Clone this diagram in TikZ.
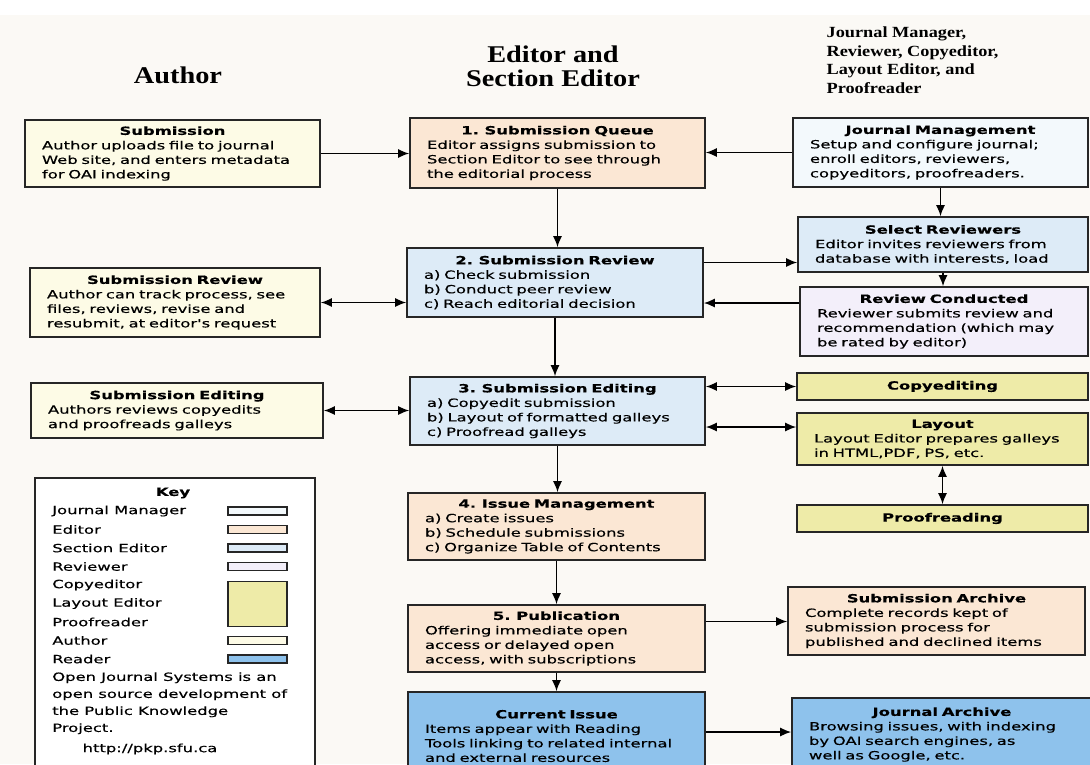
\documentclass[tikz,border=0pt]{standalone}
\usepackage{fontspec}
\usepackage{tikz}
\usetikzlibrary{arrows.meta}
\newfontfamily\boxfont{DejaVu Sans}[FakeStretch=1.45,FakeBold=0.4]
\newfontfamily\headfont{Liberation Serif}[FakeStretch=1.18]
\definecolor{paper}{HTML}{FBF9F5}
\definecolor{authorfill}{HTML}{FDFBE6}
\definecolor{editorfill}{HTML}{FBE7D4}
\definecolor{sectfill}{HTML}{DDEBF7}
\definecolor{managerfill}{HTML}{F3F9FC}
\definecolor{reviewfill}{HTML}{F3EFFA}
\definecolor{copyfill}{HTML}{EEEBA8}
\definecolor{readerfill}{HTML}{8EC2EC}
\setlength\parindent{0pt}
\newcommand\ttl[1]{{\centering\bfseries #1\par}}
\tikzset{every picture/.style={line width=0.2mm}}
\tikzset{
  card/.style={draw=black!85, line width=1.6pt, inner xsep=17pt, inner ysep=0pt,
    text width=261pt, align=left, font=\boxfont\fontsize{11.3}{14.5}\selectfont},
  head/.style={font=\headfont\bfseries\fontsize{24}{24}\selectfont, align=center},
  flow/.style={-{Latex[length=11pt,width=9pt]}, line width=1.5pt},
  twoway/.style={{Latex[length=11pt,width=9pt]}-{Latex[length=11pt,width=9pt]}, line width=1.5pt},
  swatch/.style={draw=black!85, line width=1.2pt, minimum width=59pt, minimum height=8pt, inner sep=0pt},
  keytext/.style={font=\boxfont\fontsize{11.3}{17}\selectfont, anchor=west, inner sep=0pt}
}

\begin{document}
\begin{tikzpicture}[x=1pt,y=-1pt]
  \useasboundingbox (0,0) rectangle (1090,764);
  \fill[white] (0,0) rectangle (1090,764);
  \fill[paper] (0,15) rectangle (1090,764);

  \node[head] (hauthor) at (178,75) {Author};
  \node[head] (heditor) at (553,66) {Editor and\\Section Editor};
  \node[head, font=\headfont\bfseries\fontsize{15.5}{18.5}\selectfont, align=left, anchor=west] (hother) at (823,60)
    {Journal Manager,\\Reviewer, Copyeditor,\\Layout Editor, and\\Proofreader};

  \node[card, fill=authorfill, minimum height=67pt] (sub) at (172.5,153.5)
    {\ttl{Submission}Author uploads file to journal\\Web site, and enters metadata\\for OAI indexing};
  \node[card, fill=authorfill, text width=256pt, minimum height=69pt] (asr) at (175,302.5)
    {\ttl{Submission Review}Author can track process, see\\files, reviews, revise and\\resubmit, at editor's request};
  \node[card, fill=authorfill, text width=258pt, minimum height=55pt] (ase) at (177,410.5)
    {\ttl{Submission Editing}Authors reviews copyedits\\and proofreads galleys};

  \node[card, fill=editorfill, minimum height=70pt] (queue) at (557.5,153)
    {\ttl{1. Submission Queue}Editor assigns submission to\\Section Editor to see through\\the editorial process};
  \node[card, fill=sectfill, text width=262pt, minimum height=69pt] (rev) at (555,282.5)
    {\ttl{2. Submission Review}a) Check submission\\b) Conduct peer review\\c) Reach editorial decision};
  \node[card, fill=sectfill, minimum height=68pt] (edit) at (557.5,411)
    {\ttl{3. Submission Editing}a) Copyedit submission\\b) Layout of formatted galleys\\c) Proofread galleys};
  \node[card, fill=editorfill, text width=263pt, minimum height=67pt] (issue) at (556.5,526.5)
    {\ttl{4. Issue Management}a) Create issues\\b) Schedule submissions\\c) Organize Table of Contents};
  \node[card, fill=editorfill, text width=263pt, minimum height=67pt] (pub) at (556.5,638.5)
    {\ttl{5. Publication}Offering immediate open\\access or delayed open\\access, with subscriptions};
  \node[card, fill=readerfill, text width=263pt, minimum height=88pt] (cur) at (556.5,736)
    {\ttl{Current Issue}Items appear with Reading\\Tools linking to related internal\\and external resources};

  \node[card, fill=managerfill, minimum height=69pt] (jm) at (940.5,152.5)
    {\ttl{Journal Management}Setup and configure journal;\\enroll editors, reviewers,\\copyeditors, proofreaders.};
  \node[card, fill=sectfill, text width=256pt, minimum height=55pt] (sr) at (943,244.5)
    {\ttl{Select Reviewers}Editor invites reviewers from\\database with interests, load};
  \node[card, fill=reviewfill, text width=254pt, minimum height=69pt] (rc) at (944,321.5)
    {\ttl{Review Conducted}Reviewer submits review and\\recommendation (which may\\be rated by editor)};
  \node[card, fill=copyfill, text width=257pt, minimum height=27pt] (copy) at (942.5,386.5)
    {\ttl{Copyediting}};
  \node[card, fill=copyfill, text width=257pt, minimum height=52pt] (lay) at (942.5,439)
    {\ttl{Layout}Layout Editor prepares galleys\\in HTML,PDF, PS, etc.};
  \node[card, fill=copyfill, text width=257pt, minimum height=27pt] (proof) at (942.5,518.5)
    {\ttl{Proofreading}};
  \node[card, fill=editorfill, text width=263pt, minimum height=68pt] (sarch) at (936.5,621)
    {\ttl{Submission Archive}Complete records kept of\\submission process for\\published and declined items};
  \node[card, fill=readerfill, text width=266pt, minimum height=73pt] (jarch) at (942,734.5)
    {\ttl{Journal Archive}Browsing issues, with indexing\\by OAI search engines, as\\well as Google, etc.};

  \node[card, fill=white, text width=246pt, minimum height=300pt] (key) at (175,628) {};
  \node[keytext, anchor=center, font=\boxfont\bfseries\fontsize{11.3}{14.5}\selectfont] (keyhead) at (173,493) {Key};
  \foreach \lbl/\y/\c [count=\i] in {Journal Manager/511/managerfill, Editor/529.5/editorfill,
      Section Editor/548/sectfill, Reviewer/566.5/reviewfill, Author/640.5/authorfill, Reader/659/readerfill} {
    \node[keytext] (k\i) at (52,\y) {\lbl};
    \node[swatch, fill=\c] (s\i) at (257.5,\y) {};
  }
  \foreach \lbl/\y [count=\i] in {Copyeditor/585, Layout Editor/603.5, Proofreader/622}
    \node[keytext] (kc\i) at (52,\y) {\lbl};
  \node[swatch, fill=copyfill, minimum height=45pt] (scopy) at (257.5,604) {};
  \node[keytext, anchor=north west, align=left] (keynote) at (52,672)
    {Open Journal Systems is an\\open source development of\\the Public Knowledge\\Project.};
  \node[keytext, anchor=center] (keyurl) at (150,749) {http://pkp.sfu.ca};

  \draw[flow] (sub.east) -- (sub.east -| queue.west);
  \draw[flow] (jm.west) -- (jm.west -| queue.east);
  \draw[flow] (queue.south) -- (queue.south |- rev.north);
  \draw[flow] (jm.south) -- (jm.south |- sr.north);
  \draw[flow] (sr.south) -- (sr.south |- rc.north);
  \draw[flow] ([yshift=20pt]rev.east) -- ([yshift=20pt]rev.east -| sr.west);
  \draw[flow] ([yshift=18.5pt]rc.west) -- ([yshift=18.5pt]rc.west -| rev.east);
  \draw[twoway] (asr.east) -- (asr.east -| rev.west);
  \draw[flow] (rev.south) -- (rev.south |- edit.north);
  \draw[twoway] (ase.east) -- (ase.east -| edit.west);
  \draw[twoway] (copy.west) -- (copy.west -| edit.east);
  \draw[twoway] ([yshift=12pt]lay.west) -- ([yshift=12pt]lay.west -| edit.east);
  \draw[twoway] (lay.south) -- (lay.south |- proof.north);
  \draw[flow] (edit.south) -- (edit.south |- issue.north);
  \draw[flow] (issue.south) -- (issue.south |- pub.north);
  \draw[flow] ([yshift=17pt]pub.east) -- ([yshift=17pt]pub.east -| sarch.west);
  \draw[flow] (pub.south) -- (pub.south |- cur.north);
  \draw[flow] ([yshift=4pt]cur.east) -- ([yshift=4pt]cur.east -| jarch.west);
\end{tikzpicture}
\end{document}
